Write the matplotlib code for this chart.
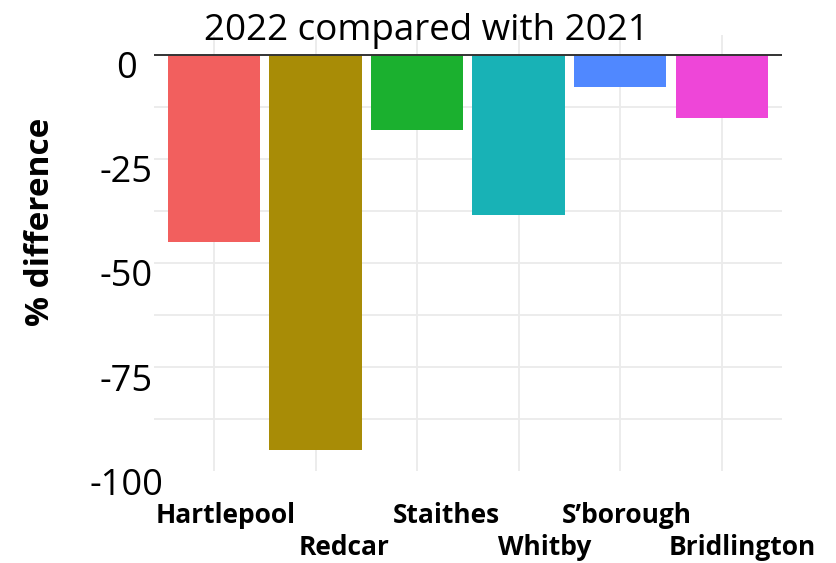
import numpy as np
import matplotlib
matplotlib.use("Agg")
import matplotlib.pyplot as plt
import matplotlib.transforms as mtransforms

# data
places = ["Hartlepool", "Redcar", "Staithes", "Whitby", "S\u2019borough", "Bridlington"]
pct_diff = [-45.0, -95.0, -18.0, -38.5, -7.7, -15.2]
bar_colors = ["#F25F5E", "#A88C06", "#1BB02F", "#18B2B6", "#5088FF", "#EE46D8"]
ytick_vals = [0, -25, -50, -75, -100]

# label nudges (pixels) so the staggered labels sit like in the original
xlab_dx = [12, 29, 29, 26, 7, 20]
xlab_dy = [0, -32, 0, -32, 0, -32]

plt.rcParams['font.family'] = ['Open Sans', 'DejaVu Sans']

fig = plt.figure(figsize=(8.37, 5.63), dpi=100)
ax = fig.add_axes([0.184, 0.163, 0.750, 0.775])

x = np.arange(len(places))
ax.bar(x, pct_diff, width=0.91, color=bar_colors, zorder=2)
ax.axhline(0, color="#333333", lw=1.4, zorder=3)

ax.set_xlim(-0.59, 5.59)
ax.set_ylim(-99.75, 4.75)

# light grid every 12.5
for gy in np.arange(-12.5, -100, -12.5):
    ax.axhline(gy, color="#EBEBEB", lw=1.3, zorder=0)
ax.set_xticks(x)
ax.grid(True, which="major", axis="x", color="#EBEBEB", lw=1.3, zorder=0)
for s in ax.spines.values():
    s.set_visible(False)

ax.set_yticks(ytick_vals)
ax.set_yticklabels([str(v) for v in ytick_vals], fontsize=26, ha="center")
ax.tick_params(axis="y", length=0, pad=20)
ax.tick_params(axis="x", length=0, pad=22)
# labels sit a bit lower than the ticks in the original
for lab in ax.get_yticklabels():
    lab.set_transform(lab.get_transform() +
                      mtransforms.ScaledTranslation(0, -0.10, fig.dpi_scale_trans))

ax.set_xticklabels(places, fontsize=19, fontweight="bold")
for lab, dx, dy in zip(ax.get_xticklabels(), xlab_dx, xlab_dy):
    lab.set_transform(lab.get_transform() +
                      mtransforms.ScaledTranslation(dx / 100, dy / 100, fig.dpi_scale_trans))

fig.text(0.048, 0.606, "% difference", rotation=90, fontsize=24,
         fontweight="bold", ha="center", va="center")
fig.text(0.51, 0.929, "2022 compared with 2021", fontsize=26.5,
         ha="center", va="baseline")

fig.savefig("out.png", dpi=100)
